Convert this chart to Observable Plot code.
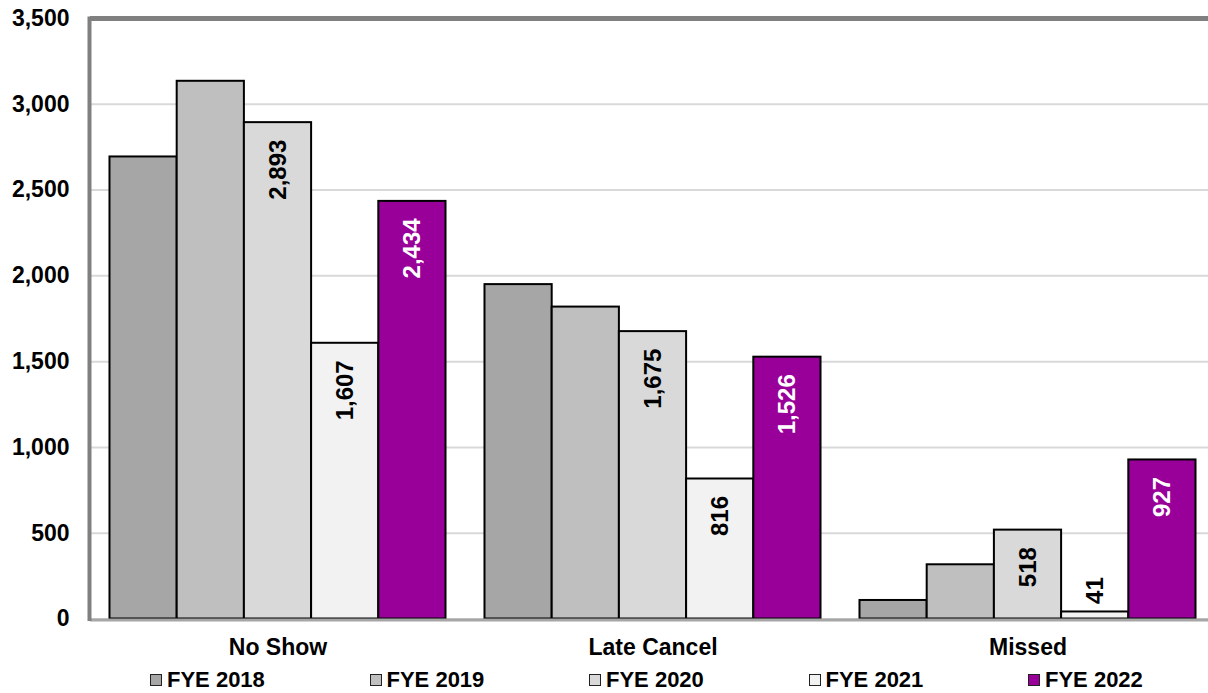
<!DOCTYPE html>
<html><head><meta charset="utf-8">
<script src="https://cdn.jsdelivr.net/npm/d3@7"></script>
<script src="https://cdn.jsdelivr.net/npm/@observablehq/plot@0.6"></script>
<style>
html,body{margin:0;padding:0;background:#fff;overflow:hidden;width:1208px;height:693px}
#chart{position:absolute;left:0;top:0;width:1225px}
#chart svg{max-width:none !important}
#legend{position:absolute;left:150px;top:669px;width:1050px;display:flex;font-family:"Liberation Sans",Arial,sans-serif;font-weight:bold;font-size:22px;line-height:22px;white-space:nowrap;overflow:visible}
.item{flex:0 0 auto;width:219.5px;display:flex;align-items:center}
.sw{flex:0 0 auto;width:10px;height:10px;border:1.5px solid #222;margin-right:5px}
</style></head><body>
<div id="chart"></div><div id="legend"></div>
<script>
const categories = ["No Show", "Late Cancel", "Missed"];
const series = ["FYE 2018", "FYE 2019", "FYE 2020", "FYE 2021", "FYE 2022"];
const colors = ["#a6a6a6", "#bfbfbf", "#d9d9d9", "#f2f2f2", "#990099"];
const fye2018 = [2693, 1949, 108];
const fye2019 = [3134, 1818, 316];
const fye2020 = [2893, 1675, 518];
const fye2021 = [1607, 816, 41];
const fye2022 = [2434, 1526, 927];
const labeledSeries = ["FYE 2020", "FYE 2021", "FYE 2022"];
const yTicks = [0, 500, 1000, 1500, 2000, 2500, 3000, 3500];

const values = [fye2018, fye2019, fye2020, fye2021, fye2022];
const data = [];
categories.forEach((c, i) => series.forEach((s, j) => data.push({category: c, series: s, value: values[j][i]})));
const labels = data.filter(d => labeledSeries.includes(d.series));
const inside = labels.filter(d => d.value >= 200);
const outside = labels.filter(d => d.value < 200);
const fmt = d3.format(",");
const font = '"Liberation Sans", Arial, sans-serif';

const plot = Plot.plot({
  width: 1225,
  height: 663,
  marginTop: 18,
  marginLeft: 90,
  marginRight: 10,
  marginBottom: 44.5,
  style: {fontFamily: font, fontWeight: "bold", fontSize: "23px", color: "#000", background: "#fff", overflow: "visible", maxWidth: "none"},
  fx: {domain: categories, padding: 0, round: false},
  x: {domain: series, paddingInner: 0, paddingOuter: 0.29, round: false, axis: null},
  y: {domain: [0, 3500], axis: null},
  color: {domain: series, range: colors},
  marks: [
    Plot.gridY(yTicks, {stroke: "#d9d9d9", strokeOpacity: 1, strokeWidth: 2}),
    Plot.barY(data, {fx: "category", x: "series", y: "value", fill: "series", stroke: "#000", strokeWidth: 2}),
    Plot.ruleY([0], {stroke: "#a6a6a6", strokeWidth: 3, dy: 1}),
    Plot.ruleY([3500], {stroke: "#808080", strokeWidth: 5}),
    Plot.frame({anchor: "left", facetAnchor: "left", stroke: "#808080", strokeWidth: 4, dx: -1}),
    Plot.text(inside, {fx: "category", x: "series", y: "value", text: d => fmt(d.value), rotate: -90, textAnchor: "end", lineAnchor: "middle", dy: 17, fontSize: 24, fontWeight: "bold", fill: d => d.series === "FYE 2022" ? "#fff" : "#000"}),
    Plot.text(outside, {fx: "category", x: "series", y: "value", text: d => fmt(d.value), rotate: -90, textAnchor: "start", lineAnchor: "middle", dy: -8, fontSize: 24, fontWeight: "bold", fill: "#000"}),
    Plot.axisY(yTicks, {tickSize: 0, tickPadding: 21, tickFormat: d => fmt(d), label: null, fontSize: 23, fontWeight: "bold"}),
    Plot.axisFx({anchor: "bottom", tickSize: 0, tickPadding: 20, label: null, fontSize: 23, fontWeight: "bold"})
  ]
});
document.getElementById("chart").appendChild(plot);

const legend = document.getElementById("legend");
series.forEach((s, j) => {
  const item = document.createElement("div");
  item.className = "item";
  const sw = document.createElement("span");
  sw.className = "sw";
  sw.style.background = colors[j];
  const t = document.createElement("span");
  t.textContent = s;
  item.appendChild(sw); item.appendChild(t);
  legend.appendChild(item);
});
</script>
</body></html>
